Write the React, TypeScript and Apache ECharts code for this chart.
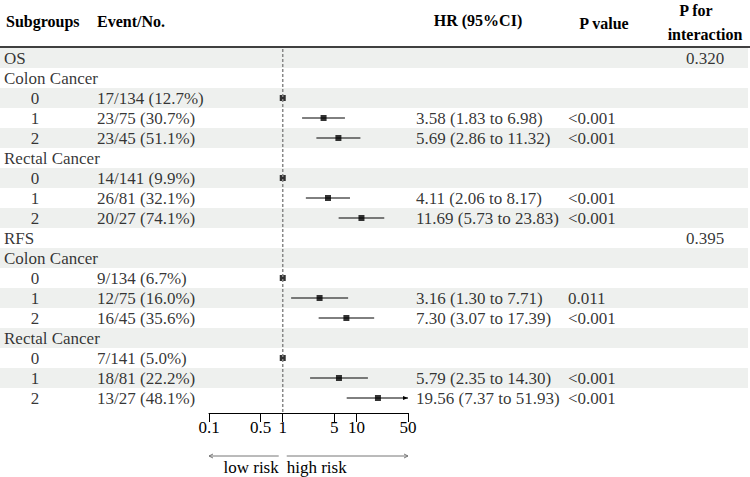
import React, { useEffect, useRef } from "react";
import * as echarts from "echarts";

// ---------- data ----------
const rowLabels = ["OS", "Colon Cancer", "0", "1", "2", "Rectal Cancer", "0", "1", "2", "RFS", "Colon Cancer", "0", "1", "2", "Rectal Cancer", "0", "1", "2"];
const rowKinds = ["outcome", "cancer", "level", "level", "level", "cancer", "level", "level", "level", "outcome", "cancer", "level", "level", "level", "cancer", "level", "level", "level"];
const eventLabels = ["", "", "17/134 (12.7%)", "23/75 (30.7%)", "23/45 (51.1%)", "", "14/141 (9.9%)", "26/81 (32.1%)", "20/27 (74.1%)", "", "", "9/134 (6.7%)", "12/75 (16.0%)", "16/45 (35.6%)", "", "7/141 (5.0%)", "18/81 (22.2%)", "13/27 (48.1%)"];
const hrValues: (number | null)[] = [null, null, 1, 3.58, 5.69, null, 1, 4.11, 11.69, null, null, 1, 3.16, 7.30, null, 1, 5.79, 19.56];
const ciLower: (number | null)[] = [null, null, null, 1.83, 2.86, null, null, 2.06, 5.73, null, null, null, 1.30, 3.07, null, null, 2.35, 7.37];
const ciUpper: (number | null)[] = [null, null, null, 6.98, 11.32, null, null, 8.17, 23.83, null, null, null, 7.71, 17.39, null, null, 14.30, 51.93];
const pValues = ["", "", "", "<0.001", "<0.001", "", "", "<0.001", "<0.001", "", "", "", "0.011", "<0.001", "", "", "<0.001", "<0.001"];
const pInteraction = ["0.320", "", "", "", "", "", "", "", "", "0.395", "", "", "", "", "", "", "", ""];
const tickValues = [0.1, 0.5, 1, 5, 10, 50];
const tickLabels = ["0.1", "0.5", "1", "5", "10", "50"];
const headerTexts = ["Subgroups", "Event/No.", "HR (95%CI)", "P value", "P for", "interaction"];
const riskLabels = ["low risk", "high risk"];

// ---------- styles ----------
const FONT = '"Liberation Serif", "Times New Roman", serif';
const STRIPE = "#eef0ee";
const X_MIN = 0.1;
const X_MAX = 50;

const rowIds = rowLabels.map((_, i) => "r" + i);

function textSeries(colX: number, texts: string[], centered: boolean) {
  const data = texts
    .map((t, i) => ({ value: [colX, i], name: t }))
    .filter((d) => d.name !== "");
  return {
    type: "scatter",
    xAxisIndex: 1,
    yAxisIndex: 1,
    symbolSize: 0,
    silent: true,
    z: 3,
    data,
    label: {
      show: true,
      formatter: "{b}",
      position: centered ? "inside" : "right",
      distance: 0,
      color: "#000",
      fontFamily: FONT,
      fontSize: 17,
    },
  };
}

export default function App() {
  const ref = useRef<HTMLDivElement>(null);

  useEffect(() => {
    document.body.style.margin = "0";
    const chart = echarts.init(ref.current!, null, { renderer: "svg" });

    const hrText = hrValues.map((v, i) =>
      v !== null && ciLower[i] !== null
        ? `${v.toFixed(2)} (${(ciLower[i] as number).toFixed(2)} to ${(ciUpper[i] as number).toFixed(2)})`
        : ""
    );

    const ciData = hrValues
      .map((v, i) => (ciLower[i] !== null ? [ciLower[i], i, ciUpper[i]] : null))
      .filter((d) => d !== null);
    const pointData = hrValues
      .map((v, i) => (v !== null ? [v, i] : null))
      .filter((d) => d !== null);

    const option: any = {
      animation: false,
      grid: [
        { left: 209, width: 199, top: 48, height: 360 },
        { left: 0, width: 750, top: 48, height: 360 },
      ],
      xAxis: [
        {
          type: "log",
          logBase: 10,
          gridIndex: 0,
          min: X_MIN,
          max: X_MAX,
          offset: 5,
          axisLine: { show: true, lineStyle: { color: "#000", width: 1 } },
          axisTick: { show: true, length: 9, customValues: tickValues, lineStyle: { color: "#000", width: 1 } },
          axisLabel: {
            show: true,
            customValues: tickValues,
            margin: 6,
            color: "#000",
            fontFamily: FONT,
            fontSize: 17,
            hideOverlap: false,
            showMinLabel: true,
            showMaxLabel: true,
            formatter: (v: number) => {
              let best = 0;
              tickValues.forEach((t, k) => {
                if (Math.abs(Math.log10(t) - Math.log10(v)) < Math.abs(Math.log10(tickValues[best]) - Math.log10(v))) best = k;
              });
              return tickLabels[best];
            },
          },
          splitLine: { show: false },
        },
        { type: "value", gridIndex: 1, min: 0, max: 750, show: false },
      ],
      yAxis: [
        { type: "category", gridIndex: 0, data: rowIds, inverse: true, show: false },
        { type: "category", gridIndex: 1, data: rowIds, inverse: true, show: false },
      ],
      series: [
        {
          type: "bar",
          xAxisIndex: 1,
          yAxisIndex: 1,
          barWidth: 20,
          silent: true,
          z: 0,
          itemStyle: { color: STRIPE },
          data: rowIds.map((_, i) => (i % 2 === 0 ? 748 : "-")),
        },
        textSeries(4, rowLabels.map((l, i) => (rowKinds[i] !== "level" ? l : "")), false),
        textSeries(35, rowLabels.map((l, i) => (rowKinds[i] === "level" ? l : "")), true),
        textSeries(97, eventLabels, false),
        textSeries(416, hrText, false),
        textSeries(568, pValues, false),
        textSeries(705, pInteraction, true),
        {
          type: "custom",
          xAxisIndex: 0,
          yAxisIndex: 0,
          clip: false,
          silent: true,
          z: 4,
          encode: { x: [0, 2], y: 1 },
          data: ciData,
          renderItem: (params: any, api: any) => {
            const lo = api.value(0);
            const row = api.value(1);
            const hi = api.value(2);
            const p1 = api.coord([lo, row]);
            const p2 = api.coord([Math.min(hi, X_MAX), row]);
            const children: any[] = [
              { type: "line", shape: { x1: p1[0], y1: p1[1], x2: p2[0], y2: p2[1] }, style: { stroke: "#000", lineWidth: 1 } },
            ];
            if (hi > X_MAX) {
              children.push({
                type: "polygon",
                shape: { points: [[p2[0], p2[1]], [p2[0] - 5, p2[1] - 2], [p2[0] - 5, p2[1] + 2]] },
                style: { fill: "#000" },
              });
            }
            return { type: "group", children };
          },
        },
        {
          type: "scatter",
          xAxisIndex: 0,
          yAxisIndex: 0,
          symbol: "rect",
          symbolSize: 6,
          silent: true,
          z: 5,
          itemStyle: { color: "#000" },
          data: pointData,
        },
      ],
    };
    chart.setOption(option);

    const px = (v: number) => chart.convertToPixel({ xAxisIndex: 0 }, v) as number;
    const x1 = px(1);
    const xL = px(X_MIN);
    const xR = px(X_MAX);
    const arrowY = 456;
    const gray = "#777";
    const t = (text: string, x: number, y: number, align: string, size: number, weight: string) => ({
      type: "text",
      x,
      y,
      silent: true,
      style: {
        text,
        fontFamily: FONT,
        fontSize: size,
        fontWeight: weight,
        fill: "#000",
        align,
        verticalAlign: "middle",
        textAlign: align,
        textVerticalAlign: "middle",
      },
    });

    chart.setOption({
      graphic: [
        { type: "line", silent: true, shape: { x1: 0, y1: 47, x2: 750, y2: 47 }, style: { stroke: "#000", lineWidth: 1.6 } },
        { type: "line", silent: true, z: 10, shape: { x1: x1, y1: 49, x2: x1, y2: 413 }, style: { stroke: "#888", lineWidth: 1.5, lineDash: [3, 2] } },
        t(headerTexts[0], 6, 21, "left", 16, "bold"),
        t(headerTexts[1], 97, 21, "left", 16, "bold"),
        t(headerTexts[2], 478, 20, "center", 16, "bold"),
        t(headerTexts[3], 604, 23, "center", 16, "bold"),
        t(headerTexts[4], 696, 10, "center", 16, "bold"),
        t(headerTexts[5], 705, 34, "center", 16, "bold"),
        { type: "line", silent: true, shape: { x1: xL, y1: arrowY, x2: x1 - 4, y2: arrowY }, style: { stroke: gray, lineWidth: 1 } },
        { type: "polyline", silent: true, shape: { points: [[xL + 4, arrowY - 2], [xL, arrowY], [xL + 4, arrowY + 2]] }, style: { stroke: gray, lineWidth: 1, fill: "none" } },
        { type: "line", silent: true, shape: { x1: x1 + 4, y1: arrowY, x2: xR, y2: arrowY }, style: { stroke: gray, lineWidth: 1 } },
        { type: "polyline", silent: true, shape: { points: [[xR - 4, arrowY - 2], [xR, arrowY], [xR - 4, arrowY + 2]] }, style: { stroke: gray, lineWidth: 1, fill: "none" } },
        t(riskLabels[0], x1 - 4, 467, "right", 17, "normal"),
        t(riskLabels[1], x1 + 4, 467, "left", 17, "normal"),
      ],
    });

    return () => chart.dispose();
  }, []);

  return <div ref={ref} style={{ width: 750, height: 477 }} />;
}
